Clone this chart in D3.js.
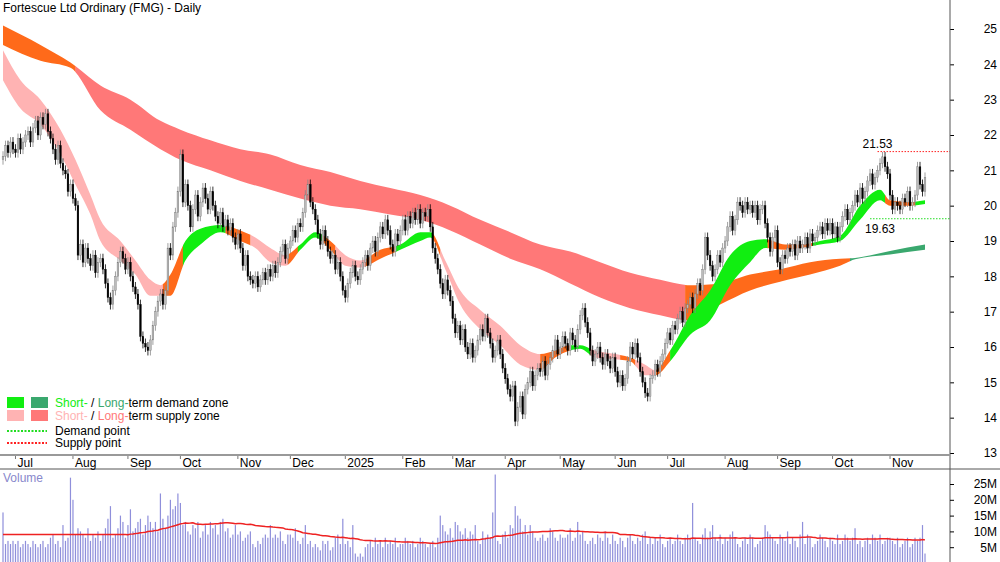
<!DOCTYPE html>
<html>
<head>
<meta charset="utf-8">
<script src="https://cdn.jsdelivr.net/npm/d3@7"></script>
<style>
  body { margin: 0; background: #fff; }
  text { font-family: "Liberation Sans", Arial, sans-serif; }
</style>
</head>
<body>
<svg id="chart" width="1000" height="562"></svg>
<script>
/* daily closes, one week per line, from Mon 24 Jun 2024 */
var closes = [
  21.4,21.7,21.5,21.8,21.6, 21.5,21.9,21.6,21.8,22.0, 22.1,21.8,22.2,22.4,22.0, 22.5,22.3,22.6,22.1,21.9,
  21.6,21.3,21.7,21.2,21.0, 20.9,20.4,20.6,20.2,20.0, 18.6,18.9,18.4,18.8,18.5, 18.3,18.6,18.1,18.4,18.5,
  18.2,17.8,17.4,17.2,17.6, 18.0,18.4,18.7,18.5,18.2, 18.4,18.0,17.7,17.5,17.2, 16.3,16.1,16.0,15.9,16.2,
  16.6,17.0,17.3,17.5,17.2, 17.6,18.8,18.6,19.4,19.8, 20.4,21.45,20.1,20.6,20.0, 19.4,19.9,20.3,19.7,20.1,
  20.5,20.2,19.9,20.4,20.0, 19.7,19.5,19.8,19.4,19.6, 19.3,19.5,19.1,18.9,19.2, 18.8,18.3,18.6,18.0,17.9,
  17.8,18.0,17.7,17.9,18.1, 17.9,18.2,18.0,18.3,18.1, 18.4,18.7,18.9,18.5,18.8, 19.0,19.3,19.1,19.5,19.4,
  19.8,20.3,20.6,20.1,19.9, 19.6,19.2,18.9,19.3,19.0, 18.7,18.5,18.6,18.2,18.4, 18.0,17.6,17.4,17.8,18.1,
  18.3,18.0,17.9,18.2,18.4, 18.6,18.3,18.8,19.0,18.7, 19.1,19.4,19.2,19.6,19.3, 18.9,18.7,19.2,19.0,19.3,
  19.6,19.3,19.7,19.5,19.8, 19.6,19.9,19.5,19.8,19.7, 19.9,19.4,18.8,18.5,18.2, 17.8,17.5,17.9,17.6,17.3,
  16.8,16.4,16.6,16.2,16.5, 16.0,15.8,16.1,15.7,15.9, 16.2,16.5,16.3,16.8,16.4, 16.1,15.7,15.9,16.2,15.8,
  15.4,15.1,14.8,14.6,14.9, 13.9,14.3,14.6,14.1,14.8, 15.0,15.3,14.9,15.2,15.4, 15.3,15.6,15.2,15.5,15.7,
  15.9,16.2,15.8,16.0,16.3, 16.1,15.9,16.4,16.2,16.0, 16.5,16.9,17.1,16.7,16.4, 15.9,15.6,15.8,16.0,15.7,
  15.5,15.8,15.6,15.4,15.7, 15.3,15.0,15.2,14.9,15.1, 15.6,16.0,15.8,16.1,15.7, 15.3,15.0,14.7,14.6,15.1,
  15.2,15.5,15.3,15.6,15.8, 16.1,16.4,16.2,16.6,16.5, 16.8,17.0,16.7,17.1,17.2, 17.4,17.1,17.5,17.8,17.6,
  18.2,19.1,18.6,18.3,18.0, 18.2,18.6,18.4,18.8,19.0, 19.4,19.7,19.3,19.6,20.1, 20.0,19.8,20.1,19.9,20.0,
  19.8,20.0,19.6,19.9,20.0, 19.5,19.1,18.7,19.1,19.3, 18.4,18.2,18.6,18.5,18.8, 18.7,18.9,18.6,19.0,18.8,
  18.9,19.1,18.8,19.2,19.0, 19.1,19.3,19.4,19.2,19.5, 19.3,19.5,19.2,19.4,19.1, 19.4,19.7,19.9,19.6,19.8,
  20.0,20.3,20.1,20.5,20.2, 20.4,20.7,20.9,20.6,20.8, 21.0,21.2,21.38,21.1,20.9, 20.3,19.9,20.1,20.0,19.9,
  20.2,20.1,20.4,20.0,20.1, 20.3,21.1,20.6,20.4,20.8
];

/* daily volume, millions */
var volumes = [
  16,6,7,6,7, 6,7,5,6,7, 6,5,7,6,5, 6,7,5,6,8, 9,6,7,5,12, 7,8,27,20,9, 11,10,9,8,11, 7,9,8,10,7,
  9,11,14,18,8, 9,11,15,13,8, 12,17,10,11,13, 14,9,12,15,13, 11,13,10,22,14, 11,15,20,17,18,
  22,19,12,13,10, 9,12,11,13,8, 10,12,9,13,11, 12,9,13,14,10, 11,8,9,12,9, 10,7,8,9,10,
  6,5,7,6,8, 9,8,12,8,9, 8,10,7,6,9, 9,8,11,7,6, 8,12,6,7,5, 6,5,4,7,6, 7,4,5,8,9, 6,14,6,7,5,
  12,3,2,3,2, 5,6,7,5,8, 6,7,5,8,6, 7,6,8,5,6, 6,8,7,6,7, 5,6,8,7,6, 5,6,7,5,8, 15,12,10,9,11,
  8,13,12,10,9, 11,8,10,9,12, 7,6,10,8,9, 8,16,28,7,6, 9,10,8,12,11, 18,15,14,10,12, 9,12,10,8,7,
  8,9,7,8,11, 10,8,7,9,8, 8,9,11,7,8, 13,9,10,7,6, 7,8,6,9,8, 7,10,8,6,9, 7,6,8,7,5, 8,9,7,6,8,
  7,9,10,6,8, 6,8,7,9,6, 5,7,8,6,7, 9,7,6,8,9, 8,19,8,7,6, 9,11,8,10,12, 8,7,9,6,8, 7,9,10,8,6,
  5,7,8,6,9, 8,5,6,7,8, 12,10,9,8,7, 6,9,8,7,10, 6,8,7,5,9, 13,6,9,8,5, 6,7,9,8,7, 5,8,7,6,9,
  6,7,9,8,7, 8,11,6,7,5, 7,8,6,9,8, 7,9,6,7,8, 8,7,6,8,5, 6,7,8,5,6, 8,7,8,12,3
];

/* long-term zone edges sampled at bar indices */
var longIdx = [0,15,27,39,51,63,71,83,95,107,119,131,143,155,167,179,191,203,215,227,239,251,263,275,287,299,311,323,335,341,355,369];
var longTop = [25.1,24.55,24.05,23.4,23.0,22.4,22.15,21.85,21.6,21.45,21.15,20.95,20.7,20.5,20.3,20.0,19.6,19.25,18.9,18.7,18.4,18.1,17.9,17.75,17.8,18.05,18.2,18.4,18.5,18.52,18.72,18.9];
var longBot = [24.55,24.1,23.9,22.7,22.15,21.6,21.3,21.0,20.7,20.45,20.2,20.0,19.9,19.75,19.6,19.3,18.9,18.5,18.2,17.8,17.4,17.1,16.9,16.75,17.2,17.6,17.85,18.05,18.3,18.48,18.62,18.75];
var longRuns = [[0,"orange"],[29,"supply"],[273,"orange"],[339,"demand"]];

/* short-term zone edges */
var shortIdx = [0,7,15,23,29,35,39,47,53,59,63,67,73,79,87,95,101,107,113,119,125,131,137,143,151,159,167,171,177,183,191,199,207,215,221,227,231,237,245,251,257,261,267,275,283,291,299,305,313,319,327,335,343,351,355,363,369];
var shortTop = [24.4,23.55,23.0,22.15,21.3,20.3,19.6,19.0,18.45,17.9,17.75,18.05,19.0,19.35,19.45,19.3,19.1,18.8,18.6,18.9,19.25,19.0,18.6,18.45,18.75,18.9,19.25,19.25,18.45,17.6,17.05,16.6,16.05,15.8,15.9,16.05,16.05,15.9,15.8,15.7,15.5,15.35,15.9,16.9,17.6,18.6,19.0,19.05,18.9,18.9,19.0,19.15,20.0,20.45,20.15,20.1,20.15];
var shortBot = [23.55,22.75,22.3,21.45,20.6,19.75,19.0,18.45,18.05,17.45,17.45,17.45,18.45,18.9,19.25,19.0,18.8,18.4,18.3,18.75,19.1,18.75,18.3,18.25,18.5,18.75,19.0,19.1,18.2,17.2,16.5,16.05,15.5,15.35,15.7,15.9,15.95,15.7,15.65,15.6,15.2,15.2,15.6,16.35,16.75,17.75,18.4,18.8,18.75,18.8,18.9,19.0,19.6,20.15,20.0,20.0,20.05];
var shortRuns = [[0,"supply"],[64,"orange"],[72,"demand"],[89,"orange"],[99,"supply"],[114,"orange"],[118,"demand"],[128,"orange"],[133,"supply"],[145,"orange"],[157,"demand"],[172,"orange"],[175,"supply"],[215,"orange"],[227,"demand"],[235,"supply"],[247,"orange"],[253,"supply"],[261,"orange"],[267,"demand"],[306,"orange"],[324,"demand"],[353,"orange"],[365,"demand"]];

var priceTicks = [13,14,15,16,17,18,19,20,21,22,23,24,25];
var volTicks = [5,10,15,20,25];
var supplyPoint = {idx: 350, value: 21.53};
var demandPoint = {idx: 347, value: 19.63};

var colors = {
  shortsupply: "#ffb3b3", longsupply: "#ff7878",
  shortdemand: "#11ee11", longdemand: "#3aa86e",
  shortorange: "#ff6a1a", longorange: "#ff6a1a"
};

/* trading days (weekdays) */
var dates = [];
for (var d = new Date(2024, 5, 24); dates.length < closes.length; d.setDate(d.getDate() + 1)) {
  if (d.getDay() !== 0 && d.getDay() !== 6) dates.push(new Date(d));
}
var bars = closes.map(function(c, i) {
  var o = i === 0 ? c - 0.1 : closes[i - 1];
  return {i: i, open: o, close: c, high: Math.max(o, c) + 0.14, low: Math.min(o, c) - 0.14, vol: volumes[i]};
});

var svg = d3.select("#chart");
var axisX = 950;

var x = d3.scaleLinear().domain([0, closes.length - 1]).range([3, 925]);
var y = d3.scaleLinear().domain([13, 25]).range([453, 29]);
var yv = d3.scaleLinear().domain([0, 25]).range([563, 484]);

var defs = svg.append("defs");
defs.append("clipPath").attr("id", "priceClip").append("rect")
    .attr("x", 0).attr("y", 0).attr("width", axisX).attr("height", 455);

var gPrice = svg.append("g").attr("clip-path", "url(#priceClip)");

function drawZone(idx, top, bot, runs, kind) {
  var pts = idx.map(function(v, k) { return {i: v, t: top[k], b: bot[k]}; });
  var area = d3.area().curve(d3.curveMonotoneX)
      .x(function(p) { return x(p.i); })
      .y0(function(p) { return y(p.b); })
      .y1(function(p) { return y(p.t); });
  runs.forEach(function(r, k) {
    var start = k === 0 ? -5 : x(r[0]);
    var end = k === runs.length - 1 ? axisX : x(runs[k + 1][0]);
    var id = kind + "clip" + k;
    defs.append("clipPath").attr("id", id).append("rect")
        .attr("x", start).attr("y", 0).attr("width", end - start + 0.3).attr("height", 455);
    gPrice.append("path").datum(pts)
        .attr("clip-path", "url(#" + id + ")")
        .attr("fill", colors[kind + r[1]])
        .attr("d", area);
  });
}
drawZone(longIdx, longTop, longBot, longRuns, "long");
drawZone(shortIdx, shortTop, shortBot, shortRuns, "short");

/* candles */
var bw = 1.7;
var candle = gPrice.selectAll(".candle").data(bars).enter().append("g");
candle.append("line")
    .attr("x1", function(b) { return x(b.i); }).attr("x2", function(b) { return x(b.i); })
    .attr("y1", function(b) { return y(b.high); }).attr("y2", function(b) { return y(b.low); })
    .attr("stroke", function(b) { return b.close >= b.open ? "#888" : "#000"; })
    .attr("stroke-width", 0.8);
candle.append("rect")
    .attr("x", function(b) { return x(b.i) - bw / 2; })
    .attr("width", bw)
    .attr("y", function(b) { return y(Math.max(b.open, b.close)); })
    .attr("height", function(b) { return Math.max(1, Math.abs(y(b.open) - y(b.close))); })
    .attr("fill", function(b) { return b.close >= b.open ? "#bbb" : "#000"; })
    .attr("stroke", function(b) { return b.close >= b.open ? "#777" : "#000"; })
    .attr("stroke-width", 0.4);

/* supply / demand points */
gPrice.append("line")
    .attr("x1", x(supplyPoint.idx)).attr("x2", axisX)
    .attr("y1", y(supplyPoint.value)).attr("y2", y(supplyPoint.value))
    .attr("stroke", "#ff2020").attr("stroke-width", 1).attr("stroke-dasharray", "1.5,1.5");
gPrice.append("line")
    .attr("x1", x(demandPoint.idx)).attr("x2", axisX)
    .attr("y1", y(demandPoint.value)).attr("y2", y(demandPoint.value))
    .attr("stroke", "#22dd22").attr("stroke-width", 1).attr("stroke-dasharray", "1.5,1.5");
svg.append("text").attr("x", x(supplyPoint.idx)).attr("y", y(supplyPoint.value) - 4)
    .attr("text-anchor", "middle").attr("font-size", 12).text(supplyPoint.value.toFixed(2));
svg.append("text").attr("x", x(demandPoint.idx) + 10).attr("y", y(demandPoint.value) + 14)
    .attr("text-anchor", "middle").attr("font-size", 12).text(demandPoint.value.toFixed(2));

/* title */
svg.append("text").attr("x", 3).attr("y", 12).attr("font-size", 12).text("Fortescue Ltd Ordinary (FMG) - Daily");

/* legend */
var lg = svg.append("g").attr("font-size", 12);
[[colors.shortdemand, colors.longdemand, 397], [colors.shortsupply, colors.longsupply, 410]].forEach(function(r) {
  lg.append("rect").attr("x", 7).attr("y", r[2]).attr("width", 17).attr("height", 11).attr("fill", r[0]);
  lg.append("rect").attr("x", 31).attr("y", r[2]).attr("width", 17).attr("height", 11).attr("fill", r[1]);
});
var t1 = lg.append("text").attr("x", 55).attr("y", 407);
t1.append("tspan").attr("fill", colors.shortdemand).text("Short-");
t1.append("tspan").text(" / ");
t1.append("tspan").attr("fill", colors.longdemand).text("Long-");
t1.append("tspan").text("term demand zone");
var t2 = lg.append("text").attr("x", 55).attr("y", 420);
t2.append("tspan").attr("fill", colors.shortsupply).text("Short-");
t2.append("tspan").text(" / ");
t2.append("tspan").attr("fill", colors.longsupply).text("Long-");
t2.append("tspan").text("term supply zone");
lg.append("line").attr("x1", 7).attr("x2", 47).attr("y1", 431).attr("y2", 431)
    .attr("stroke", "#22dd22").attr("stroke-width", 2).attr("stroke-dasharray", "2,1.5");
lg.append("line").attr("x1", 7).attr("x2", 47).attr("y1", 443).attr("y2", 443)
    .attr("stroke", "#ff2020").attr("stroke-width", 2).attr("stroke-dasharray", "2,1.5");
lg.append("text").attr("x", 55).attr("y", 435).text("Demand point");
lg.append("text").attr("x", 55).attr("y", 447).text("Supply point");

/* price axis */
svg.append("g")
    .attr("transform", "translate(" + axisX + ",0)")
    .call(d3.axisRight(y).tickValues(priceTicks).tickSize(4).tickFormat(d3.format("d")))
    .call(function(g) {
      g.select(".domain").remove();
      g.selectAll("text").attr("x", 47).attr("text-anchor", "end").attr("font-size", 12)
          .attr("font-family", "Liberation Sans, Arial, sans-serif");
    });

/* frame lines */
svg.append("line").attr("x1", axisX).attr("x2", axisX).attr("y1", 0).attr("y2", 562).attr("stroke", "#555");
svg.append("line").attr("x1", 0).attr("x2", axisX).attr("y1", 455).attr("y2", 455).attr("stroke", "#999").attr("stroke-width", 2);
svg.append("line").attr("x1", 0).attr("x2", 1000).attr("y1", 469).attr("y2", 469).attr("stroke", "#555");

/* month axis */
var monthIdx = [];
dates.forEach(function(dt, i) { if (i > 0 && dt.getMonth() !== dates[i - 1].getMonth()) monthIdx.push(i); });
var fmt = d3.timeFormat("%b");
var gm = svg.append("g").attr("font-size", 12);
monthIdx.forEach(function(i) {
  gm.append("line").attr("x1", x(i)).attr("x2", x(i)).attr("y1", 456).attr("y2", 459).attr("stroke", "#777");
  gm.append("text").attr("x", x(i) + 2).attr("y", 467)
      .text(dates[i].getMonth() === 0 ? dates[i].getFullYear() : fmt(dates[i]));
});

/* volume */
svg.append("text").attr("x", 3).attr("y", 482).attr("font-size", 12).attr("fill", "#8888cc").text("Volume");
var gVol = svg.append("g");
gVol.selectAll("rect").data(bars).enter().append("rect")
    .attr("x", function(b) { return x(b.i) - 0.6; })
    .attr("width", 1.2)
    .attr("y", function(b) { return yv(b.vol); })
    .attr("height", function(b) { return yv(0) - yv(b.vol); })
    .attr("fill", "#8f8fdb");
/* 50-day average; the first bars use the average of the first 50 */
var ma = bars.map(function(b, i) {
  var s = volumes.slice(Math.max(0, i - 49), Math.max(50, i + 1));
  return {i: i, v: d3.mean(s)};
});
gVol.append("path").datum(ma)
    .attr("fill", "none").attr("stroke", "#ee2222").attr("stroke-width", 1.5)
    .attr("d", d3.line().x(function(p) { return x(p.i); }).y(function(p) { return yv(p.v); }));

svg.append("g")
    .attr("transform", "translate(" + axisX + ",0)")
    .call(d3.axisRight(yv).tickValues(volTicks).tickSize(4).tickFormat(function(v) { return v + "M"; }))
    .call(function(g) {
      g.select(".domain").remove();
      g.selectAll("text").attr("x", 47).attr("text-anchor", "end").attr("font-size", 12)
          .attr("font-family", "Liberation Sans, Arial, sans-serif");
    });
</script>
</body>
</html>
